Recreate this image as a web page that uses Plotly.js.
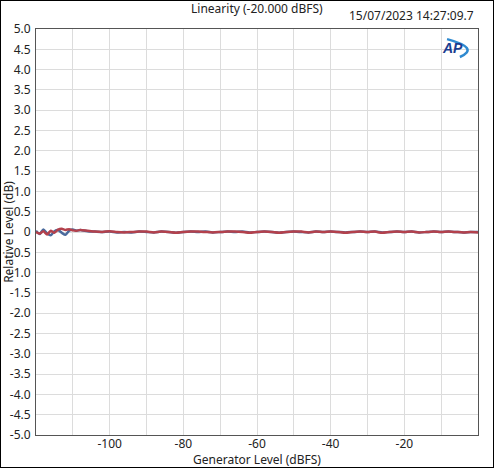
<!DOCTYPE html>
<html>
<head>
<meta charset="utf-8">
<script src="https://cdn.plot.ly/plotly-3.0.1.min.js"></script>
<style>
html,body{margin:0;padding:0;background:#fff;}
#frame{position:absolute;left:0;top:0;width:492px;height:466px;border:1px solid #000;}
#chart{position:absolute;left:0;top:0;width:494px;height:468px;}
</style>
</head>
<body>
<div id="chart"></div>
<div id="frame"></div>
<script>
// Generator level (dBFS)
const genLevel = [-120,-119,-118,-117,-116,-115,-114,-113,-112,-111,-110,-109,-108,-106,-104,-102,-100,-98,-96,-94,-92,-90,-88,-86,-84,-82,-80,-78,-76,-74,-72,-70,-68,-66,-64,-62,-60,-58,-56,-54,-52,-50,-48,-46,-44,-42,-40,-38,-36,-34,-32,-30,-28,-26,-24,-22,-20,-18,-16,-14,-12,-10,-8,-6,-4,-2,0];
// Relative level (dB), channel 1 (blue)
const ch1 = [0.03,-0.05,0.06,-0.03,-0.08,0.02,0.05,-0.02,-0.07,0.03,0.06,0.03,0.05,0.02,0.01,0.0,0.01,-0.01,0.0,-0.01,0.01,0.0,-0.01,0.01,0.0,-0.02,0.0,0.01,0.0,0.01,-0.01,0.0,0.01,0.0,0.01,-0.01,0.0,0.01,0.0,-0.02,0.0,0.01,0.0,-0.01,0.01,0.0,0.01,0.0,-0.01,0.0,0.01,0.0,0.01,-0.01,0.0,0.01,0.0,0.01,-0.01,0.0,0.01,0.0,0.01,0.0,-0.01,0.0,0.0];
// Relative level (dB), channel 2 (red)
const ch2 = [0.0,-0.04,0.02,-0.06,0.03,-0.02,0.06,0.08,0.05,0.07,0.04,0.03,0.05,0.03,0.01,0.0,0.02,0.0,-0.01,0.0,0.01,0.01,-0.01,0.01,0.0,-0.02,0.0,0.01,0.01,0.0,-0.01,0.0,0.01,0.01,0.0,-0.02,0.0,0.01,0.0,-0.02,0.0,0.01,0.01,-0.01,0.01,0.0,0.01,0.0,-0.02,0.0,0.01,0.0,0.01,-0.02,0.0,0.01,0.0,0.01,-0.01,0.0,0.01,0.0,0.01,0.0,-0.01,0.0,-0.01];
// Axis ticks
const xTickVals = [-100,-80,-60,-40,-20];
const xTickText = ['-100','-80','-60','-40','-20'];
const yTickVals = [5,4.5,4,3.5,3,2.5,2,1.5,1,0.5,0,-0.5,-1,-1.5,-2,-2.5,-3,-3.5,-4,-4.5,-5];
const yTickText = yTickVals.map(v => v === 0 ? '0' : v.toFixed(1));

const FONT = 'Noto Sans, Open Sans, DejaVu Sans, sans-serif';

const traces = [
  {x: genLevel, y: ch1, type: 'scatter', mode: 'lines', line: {color: '#4a6a9c', width: 2.5, shape: 'spline', smoothing: 0.6}, hoverinfo: 'skip'},
  {x: genLevel, y: ch2, type: 'scatter', mode: 'lines', line: {color: '#b3414c', width: 2.5, shape: 'spline', smoothing: 0.6}, hoverinfo: 'skip'}
];

const layout = {
  width: 494, height: 468,
  margin: {l: 36, r: 16, t: 29, b: 33},
  paper_bgcolor: '#ffffff', plot_bgcolor: '#ffffff',
  showlegend: false,
  font: {family: FONT, size: 12, color: '#222'},
  title: {text: 'Linearity (-20.000 dBFS)', x: 0.52, xanchor: 'center', y: 0.982, yanchor: 'middle', font: {family: FONT, size: 12, color: '#222'}},
  xaxis: {
    range: [-120, 0], dtick: 10, tick0: 0,
    showgrid: true, gridcolor: '#dcdcdc', gridwidth: 1,
    zeroline: false, showline: true, linecolor: '#555', linewidth: 1, mirror: true,
    ticks: '', showticklabels: false
  },
  xaxis2: {
    overlaying: 'x', matches: 'x', range: [-120, 0],
    tickmode: 'array', tickvals: xTickVals, ticktext: xTickText,
    showgrid: false, zeroline: false, showline: false, ticks: '',
    tickfont: {family: FONT, size: 12, color: '#222'},
    side: 'bottom',
    title: {text: 'Generator Level (dBFS)', font: {family: FONT, size: 12, color: '#222'}, standoff: 0}
  },
  yaxis: {
    range: [-5, 5], tickmode: 'array', tickvals: yTickVals, ticktext: yTickText,
    showgrid: true, gridcolor: '#dcdcdc', gridwidth: 1,
    zeroline: false, showline: true, linecolor: '#555', linewidth: 1, mirror: true,
    ticks: '', ticklabelstandoff: 2,
    tickfont: {family: FONT, size: 12, color: '#222'},
    title: {text: 'Relative Level (dB)', font: {family: FONT, size: 12, color: '#222'}, standoff: 0}
  },
  annotations: [
    {text: '15/07/2023 14:27:09.7', xref: 'paper', yref: 'paper', x: 0.995, y: 1.0, xanchor: 'right', yanchor: 'bottom', yshift: 3, showarrow: false, font: {family: FONT, size: 12, color: '#222'}},
    {text: '<b><i>AP</i></b>', xref: 'paper', yref: 'paper', x: 0.943, y: 0.952, xanchor: 'center', yanchor: 'middle', showarrow: false, font: {family: 'Liberation Sans, Arial, sans-serif', size: 14, color: '#1a3d8f'}}
  ],
  shapes: [
    {type: 'path', xref: 'paper', yref: 'paper', path: 'M 0.930,0.975 Q 1.005,0.953 0.959,0.931', line: {color: '#2f8ad0', width: 2.5}}
  ]
};

// invisible helper trace on xaxis2 so its labels show
traces.push({x: [-120, 0], y: [null, null], xaxis: 'x2', yaxis: 'y', type: 'scatter', mode: 'lines', hoverinfo: 'skip', showlegend: false});

Plotly.newPlot('chart', traces, layout, {displayModeBar: false, staticPlot: true});
</script>
</body>
</html>
